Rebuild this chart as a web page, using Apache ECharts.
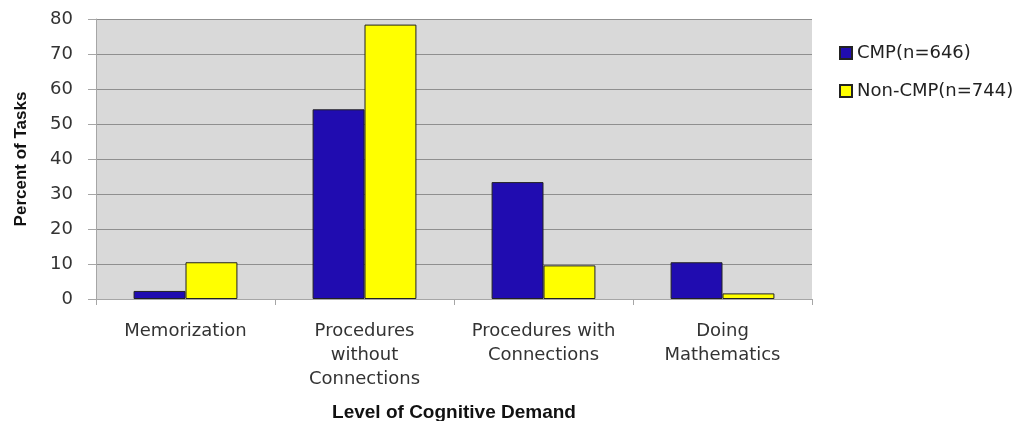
<!DOCTYPE html>
<html>
<head>
<meta charset="utf-8">
<script src="https://cdn.jsdelivr.net/npm/echarts@6/dist/echarts.min.js"></script>
<style>html,body{margin:0;padding:0;background:#fff}#c{width:1015px;height:421px}</style>
</head>
<body>
<div id="c"></div>
<script>
const categories = ['Memorization', 'Procedures\nwithout\nConnections', 'Procedures with\nConnections', 'Doing\nMathematics'];
const cmpValues = [2.3, 54.2, 33.4, 10.5];
const nonCmpValues = [10.5, 78.4, 9.6, 1.6];
const seriesNames = ['CMP(n=646)', 'Non-CMP(n=744)'];
const yTicks = { min: 0, max: 80, interval: 10 };

const chart = echarts.init(document.getElementById('c'), null, { renderer: 'canvas' });
const axisGray = '#a6a6a6';
chart.setOption({
  animation: false,
  backgroundColor: '#ffffff',
  grid: { left: 96, right: 203, top: 19, bottom: 122, show: true, backgroundColor: '#d9d9d9', borderWidth: 0, containLabel: false, outerBoundsMode: 'none' },
  legend: {
    orient: 'vertical', left: 834, top: 39,
    itemWidth: 12, itemHeight: 12, itemGap: 20,
    icon: 'rect',
    textStyle: { fontFamily: 'DejaVu Sans', fontSize: 18, color: '#222', lineHeight: 18 },
    data: seriesNames
  },
  xAxis: {
    type: 'category',
    data: categories,
    axisLine: { show: true, lineStyle: { color: axisGray, width: 1 } },
    axisTick: { show: true, length: 6, lineStyle: { color: axisGray } },
    axisLabel: { interval: 0, margin: 20, fontFamily: 'DejaVu Sans', fontSize: 18, lineHeight: 24, color: '#333' },
    name: 'Level of Cognitive Demand',
    nameLocation: 'middle', nameGap: 104,
    nameTextStyle: { fontFamily: 'Liberation Sans', fontWeight: 'bold', fontSize: 19, color: '#111' }
  },
  yAxis: {
    type: 'value',
    min: yTicks.min, max: yTicks.max, interval: yTicks.interval,
    axisLine: { show: true, lineStyle: { color: axisGray, width: 1 } },
    axisTick: { show: true, length: 8, lineStyle: { color: axisGray } },
    splitLine: { show: true, lineStyle: { color: '#8f8f8f', width: 1 } },
    axisLabel: { margin: 23, fontFamily: 'DejaVu Sans', fontSize: 18, color: '#333' },
    name: 'Percent of Tasks',
    nameLocation: 'middle', nameGap: 66,
    nameTextStyle: { fontFamily: 'Liberation Sans', fontWeight: 'bold', fontSize: 17, color: '#111' }
  },
  series: [
    {
      name: seriesNames[0], type: 'bar', data: cmpValues,
      barGap: '0%', barCategoryGap: '42%',
      itemStyle: { color: '#200cb0', borderColor: '#222', borderWidth: 1 }
    },
    {
      name: seriesNames[1], type: 'bar', data: nonCmpValues,
      barGap: '0%', barCategoryGap: '42%',
      itemStyle: { color: '#ffff00', borderColor: '#222', borderWidth: 1 }
    }
  ]
});
</script>
</body>
</html>
